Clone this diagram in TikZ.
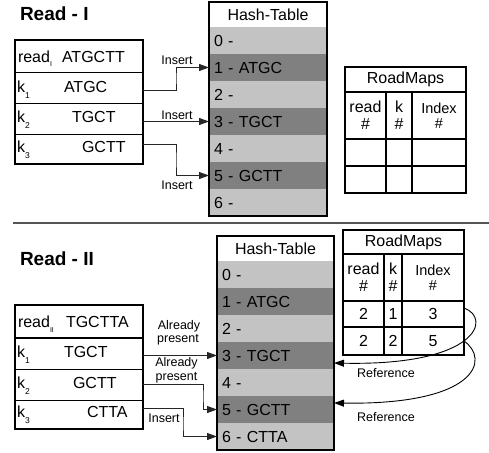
\documentclass[tikz,border=0pt]{standalone}
\usepackage{fontspec}
\setmainfont{Liberation Sans}
\usetikzlibrary{arrows.meta}
\definecolor{rowlight}{HTML}{C3C3C3}
\definecolor{rowdark}{HTML}{808080}
\definecolor{rulegray}{HTML}{555555}
% lowered indices for k-mers and reads
\newcommand\ksub[1]{\raisebox{-6.5pt}{\fontsize{8.5}{8.5}\selectfont #1}}
\newcommand\rsub[1]{\raisebox{-5pt}{\fontsize{7}{7}\selectfont #1}}
\begin{document}
\begin{tikzpicture}[x=1pt, y=-1pt,
  every node/.style={inner sep=0pt, outer sep=0pt},
  txt/.style={font=\fontsize{16}{17}\selectfont},
  lbltxt/.style={font=\fontsize{12.5}{13}\selectfont},
  heading/.style={font=\fontsize{19}{20}\selectfont\bfseries, anchor=base west},
  seq/.style={txt, anchor=base west},
  rowbox/.style={anchor=north west, minimum width=128pt, minimum height=#1},
  hhead/.style={anchor=north west, minimum width=#1, minimum height=25pt, fill=white, txt},
  hrow/.style={anchor=north west, text width=#1, inner xsep=5pt, minimum height=27pt, align=left, txt},
  lightrow/.style={fill=rowlight},
  darkrow/.style={fill=rowdark},
  cell/.style={draw=black, line width=1.2pt, anchor=north west, align=center, txt},
  tabframe/.style={draw=black, line width=1.4pt},
  thinrule/.style={draw=black, line width=1pt},
  thickrule/.style={draw=black, line width=2pt},
  kmerarrow/.style={draw=black!85, line width=1pt, -{Triangle[length=10pt,width=7pt]}},
  refarrow/.style={draw=black, line width=0.9pt, -{Triangle[length=10pt,width=7pt]}},
]
\useasboundingbox (0,0) rectangle (489,452);

% ---------- titles and separator ----------
\node[heading] (t1) at (20,21) {Read - I};
\node[heading] (t2) at (20,265) {Read - II};
\draw[rulegray, line width=1.5pt] (13,223) -- (489,223);

% ---------- first read: k-mer table ----------
\node[rowbox=32pt] (a0) at (15,40) {};
\node[rowbox=31pt] (a1) at (15,72) {};
\node[rowbox=31pt] (a2) at (15,103) {};
\node[rowbox=30pt] (a3) at (15,134) {};
\draw[line width=1.3pt] (a0.north west) rectangle (a3.south east);
\draw[thickrule] (a0.north west) -- (a0.north east);
\draw[thickrule] (a3.south west) -- (a3.south east);
\draw[thinrule] (a1.north west) -- (a1.north east);
\draw[thinrule] (a2.north west) -- (a2.north east);
\draw[thinrule] (a3.north west) -- (a3.north east);

\node[seq] (a0lab) at (18,62) {read\rsub{I}};
\node[seq] (a0seq) at (62,62) {ATGCTT};
\node[seq] (a1k) at (17,92) {k\ksub{1}};
\node[seq] (a1seq) at (64,92) {ATGC};
\node[seq] (a2k) at (17,122) {k\ksub{2}};
\node[seq] (a2seq) at (72,122) {TGCT};
\node[seq] (a3k) at (17,152) {k\ksub{3}};
\node[seq] (a3seq) at (82,152) {GCTT};

% ---------- first hash table ----------
\node[hhead=118pt] (ha) at (209,2) {Hash-Table};
\node[hrow=108pt, lightrow] (ha0) at (209,27) {0 -};
\node[hrow=108pt, darkrow] (ha1) at (209,54) {1 - ATGC};
\node[hrow=108pt, lightrow] (ha2) at (209,81) {2 -};
\node[hrow=108pt, darkrow] (ha3) at (209,108) {3 - TGCT};
\node[hrow=108pt, lightrow] (ha4) at (209,135) {4 -};
\node[hrow=108pt, darkrow] (ha5) at (209,162) {5 - GCTT};
\node[hrow=108pt, lightrow] (ha6) at (209,189) {6 -};
\draw[tabframe] (ha.north west) rectangle (ha6.south east);

% ---------- first road map (empty) ----------
\node[cell, minimum width=121pt, minimum height=25pt] (rma) at (345,67) {RoadMaps};
\node[cell, minimum width=41pt, minimum height=47pt] (rma1) at (345,92) {read\\\#};
\node[cell, minimum width=26pt, minimum height=47pt] (rma2) at (386,92) {k\\\#};
\node[cell, minimum width=54pt, minimum height=47pt, font=\fontsize{14.5}{15}\selectfont] (rma3) at (412,92) {Index\\\#};
\node[cell, minimum width=41pt, minimum height=27pt] (rma11) at (345,139) {};
\node[cell, minimum width=26pt, minimum height=27pt] (rma12) at (386,139) {};
\node[cell, minimum width=54pt, minimum height=27pt] (rma13) at (412,139) {};
\node[cell, minimum width=41pt, minimum height=27pt] (rma21) at (345,166) {};
\node[cell, minimum width=26pt, minimum height=27pt] (rma22) at (386,166) {};
\node[cell, minimum width=54pt, minimum height=27pt] (rma23) at (412,166) {};

% ---------- first read: insertions ----------
\coordinate (ea1) at (176,78);
\coordinate (ea3) at (176,160);
\draw[kmerarrow] ([yshift=-2.5pt]a1.east) -| (ea1) |- (ha1.west);
\draw[kmerarrow] (a2.east |- ha3.west) -- (ha3.west);
\draw[kmerarrow] ([yshift=5pt]a3.east) -| (ea3) |- (ha5.west);
\node[lbltxt] (ins1) at (177,60) {Insert};
\node[lbltxt] (ins2) at (177,115) {Insert};
\node[lbltxt] (ins3) at (177,185) {Insert};

% ---------- second read: k-mer table ----------
\node[rowbox=33pt] (b0) at (15,305) {};
\node[rowbox=31pt] (b1) at (15,338) {};
\node[rowbox=31pt] (b2) at (15,369) {};
\node[rowbox=29pt] (b3) at (15,400) {};
\draw[line width=1.3pt] (b0.north west) rectangle (b3.south east);
\draw[thickrule] (b1.north west) -- (b1.north east);
\draw[thickrule] (b3.south west) -- (b3.south east);
\draw[thinrule] (b2.north west) -- (b2.north east);
\draw[thinrule] (b3.north west) -- (b3.north east);

\node[seq] (b0lab) at (18,327) {read\rsub{II}};
\node[seq] (b0seq) at (66,327) {TGCTTA};
\node[seq] (b1k) at (17,357) {k\ksub{1}};
\node[seq] (b1seq) at (64,357) {TGCT};
\node[seq] (b2k) at (17,388) {k\ksub{2}};
\node[seq] (b2seq) at (73,388) {GCTT};
\node[seq] (b3k) at (17,417) {k\ksub{3}};
\node[seq] (b3seq) at (87,417) {CTTA};

% ---------- second hash table ----------
\node[hhead=117pt] (hb) at (217,236) {Hash-Table};
\node[hrow=107pt, lightrow] (hb0) at (217,261) {0 -};
\node[hrow=107pt, darkrow] (hb1) at (217,288) {1 - ATGC};
\node[hrow=107pt, lightrow] (hb2) at (217,315) {2 -};
\node[hrow=107pt, darkrow] (hb3) at (217,342) {3 - TGCT};
\node[hrow=107pt, lightrow] (hb4) at (217,369) {4 -};
\node[hrow=107pt, darkrow] (hb5) at (217,396) {5 - GCTT};
\node[hrow=107pt, lightrow] (hb6) at (217,423) {6 - CTTA};
\draw[tabframe] (hb.north west) rectangle (hb6.south east);

% ---------- second road map ----------
\node[cell, minimum width=121pt, minimum height=24pt] (rmb) at (343,230) {RoadMaps};
\node[cell, minimum width=41pt, minimum height=47pt] (rmb1) at (343,254) {read\\\#};
\node[cell, minimum width=18pt, minimum height=47pt] (rmb2) at (384,254) {k\\\#};
\node[cell, minimum width=62pt, minimum height=47pt, font=\fontsize{14.5}{15}\selectfont] (rmb3) at (402,254) {Index\\\#};
\node[cell, minimum width=41pt, minimum height=26pt] (rmb11) at (343,301) {2};
\node[cell, minimum width=18pt, minimum height=26pt] (rmb12) at (384,301) {1};
\node[cell, minimum width=62pt, minimum height=26pt] (rmb13) at (402,301) {3};
\node[cell, minimum width=41pt, minimum height=28pt] (rmb21) at (343,327) {2};
\node[cell, minimum width=18pt, minimum height=28pt] (rmb22) at (384,327) {2};
\node[cell, minimum width=62pt, minimum height=28pt] (rmb23) at (402,327) {5};

% ---------- second read: lookups and insertion ----------
\coordinate (eb2) at (203,396);
\coordinate (eb3) at (183,425);
\draw[kmerarrow] (b1.east |- hb3.west) -- (hb3.west);
\draw[kmerarrow] (b2.east) -| (eb2) |- (hb5.west);
\draw[kmerarrow] ([yshift=6.5pt]b3.east) -| (eb3) |- (hb6.west);
\node[lbltxt, anchor=base] (ap1a) at (179,329) {Already};
\node[lbltxt, anchor=base] (ap1b) at (178,342) {present};
\node[lbltxt, anchor=base] (ap2a) at (176.5,366) {Already};
\node[lbltxt, anchor=base] (ap2b) at (176.5,380) {present};
\node[lbltxt, anchor=base] (ins4) at (164,422) {Insert};

% ---------- road map entries pointing back into the table ----------
\draw[refarrow] ([yshift=6pt]rmb13.east) .. controls +(28,10) and +(144,3) .. ([yshift=-7.5pt]hb3.east);
\draw[refarrow] (rmb23.east) .. controls +(26,18) and +(144,2) .. ([yshift=6.5pt]hb5.east);
\node[lbltxt] (ref1) at (386,373) {Reference};
\node[lbltxt] (ref2) at (386,417) {Reference};
\end{tikzpicture}
\end{document}
